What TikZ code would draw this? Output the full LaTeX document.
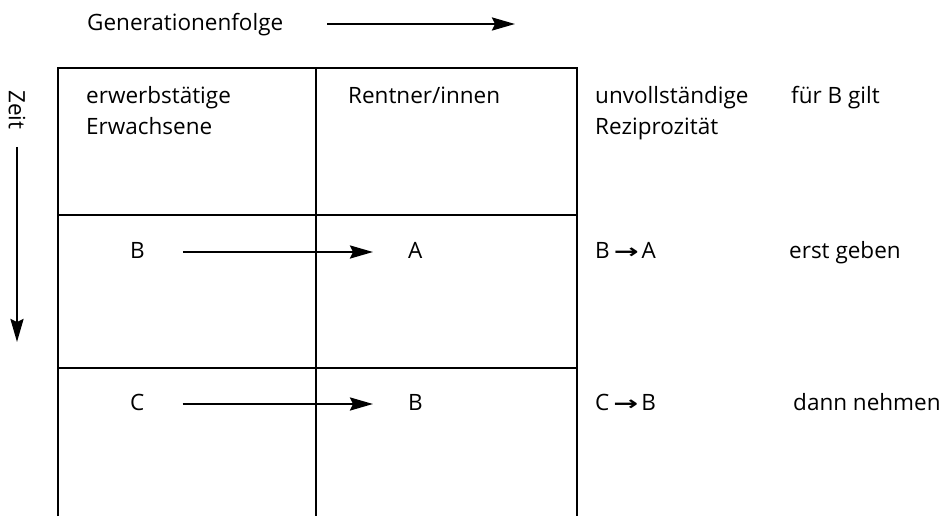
\documentclass[tikz,border=0pt]{standalone}
\usepackage{fontspec}
\setmainfont{Open Sans}
\newfontfamily\symfont{DejaVu Sans Bold}
\usetikzlibrary{arrows.meta}
\newcommand{\thickarr}{\hspace{4pt}{\symfont\fontsize{22}{22}\selectfont\scalebox{1.35}[0.9]{→}}\hspace{3pt}}
\begin{document}
\begin{tikzpicture}[x=1pt,y=-1pt,
  txt/.style={inner sep=0pt,anchor=base west,font=\fontsize{22.5}{26}\selectfont},
  grid/.style={line width=1.7pt},
  arr/.style={line width=2.6pt,-{Stealth[length=23pt,width=13pt,inset=3pt]}}]
\useasboundingbox (0,0) rectangle (941,516);
% table
\draw[grid] (58,516) -- (58,68) -- (577,68) -- (577,516);
\draw[grid] (316,68) -- (316,516);
\draw[grid] (58,215) -- (577,215);
\draw[grid] (58,368) -- (577,368);
% header
\node[txt] (gen) at (87,31) {Generationenfolge};
\coordinate (genend) at (515,24);
\draw[arr] ([xshift=44pt]gen.east |- genend) -- (genend);
\node[txt,anchor=center,rotate=-90] (zeit) at (17,110) {Zeit};
\coordinate (zeitend) at (17,342);
\draw[arr] ([yshift=-17pt]zeit.east) -- (zeitend);
% row 1
\node[txt] (erw1) at (86,103) {erwerbstätige};
\node[txt] (erw2) at (86,135) {Erwachsene};
\node[txt] (rent) at (348,103) {Rentner/innen};
\node[txt] (unv1) at (595,103) {unvollständige};
\node[txt] (unv2) at (595,135) {Reziprozität};
\node[txt] (fuer) at (791,103) {für B gilt};
% row 2
\node[txt] (b1) at (130,258) {B};
\node[txt] (a1) at (408,258) {A};
\draw[arr,shorten <=38pt,shorten >=35pt] (b1.east |- 0,252) -- (a1.west |- 0,252);
\node[txt] (ba) at (595,258) {B\thickarr A};
\node[txt] (erst) at (789,258) {erst geben};
% row 3
\node[txt] (c1) at (130,410) {C};
\node[txt] (b2) at (408,410) {B};
\draw[arr,shorten <=38pt,shorten >=35pt] (c1.east |- 0,404) -- (b2.west |- 0,404);
\node[txt] (cb) at (595,410) {C\thickarr B};
\node[txt] (dann) at (793,410) {dann nehmen};
\end{tikzpicture}
\end{document}
